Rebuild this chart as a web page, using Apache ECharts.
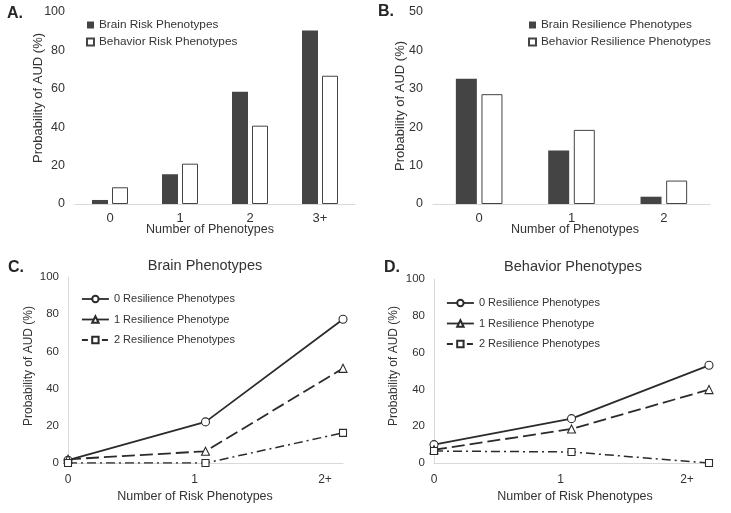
<!DOCTYPE html>
<html>
<head>
<meta charset="utf-8">
<script src="https://cdn.jsdelivr.net/npm/echarts@6/dist/echarts.min.js"></script>
<style>
html,body{margin:0;padding:0;background:#fff;}
#c{width:731px;height:513px;}
</style>
</head>
<body>
<div id="c"></div>
<script>
// ---- Data ----
var riskCats = ['0', '1', '2', '3+'];
var brainRisk = [2.1, 15.5, 58.5, 90.3];
var behaviorRisk = [8.7, 21.0, 40.8, 66.8];

var resCats = ['0', '1', '2'];
var brainRes = [32.6, 13.9, 1.9];
var behaviorRes = [28.6, 19.3, 6.1];

var lineCats = ['0', '1', '2+'];
var brain0 = [1.5, 22.1, 77.3];
var brain1 = [2.0, 6.3, 50.9];
var brain2 = [0.0, 0.0, 16.2];
var behav0 = [10.0, 24.1, 53.1];
var behav1 = [7.2, 18.5, 39.9];
var behav2 = [6.5, 6.0, 0.0];

var resNames = ['0 Resilience Phenotypes', '1 Resilience Phenotype', '2 Resilience Phenotypes'];

// ---- Styles ----
var FONT = 'Liberation Sans, Arial, sans-serif';
var TXT = '#333333';
var AX = '#d9d9d9';
var DARK = '#444444';
var LINE = '#2b2b2b';

function barX(idx, cats, fs) {
  return {
    type: 'category', gridIndex: idx, data: cats,
    axisLine: {show: true, lineStyle: {color: AX, width: 1}},
    axisTick: {show: false},
    axisLabel: {color: TXT, fontFamily: FONT, fontSize: fs, margin: 8}
  };
}
function valY(idx, max, interval, showLine, fs, margin) {
  return {
    type: 'value', gridIndex: idx, min: 0, max: max, interval: interval,
    axisLine: {show: showLine, lineStyle: {color: AX, width: 1}},
    axisTick: {show: false},
    splitLine: {show: false},
    axisLabel: {color: TXT, fontFamily: FONT, fontSize: fs, margin: margin}
  };
}
function lineX(idx) {
  return {
    type: 'category', gridIndex: idx, data: lineCats, boundaryGap: false,
    axisLine: {show: true, lineStyle: {color: AX, width: 1}},
    axisTick: {show: false},
    axisLabel: {
      color: TXT, fontFamily: FONT, fontSize: 12, margin: 11,
      formatter: function (v) {
        if (v === '1') return '{p1|' + v + '}';
        if (v === '2+') return '{p2|' + v + '}';
        return v;
      },
      rich: {
        p1: {padding: [0, 22, 0, 0], color: TXT, fontFamily: FONT, fontSize: 12},
        p2: {padding: [0, idx === 3 ? 44 : 36, 0, 0], color: TXT, fontFamily: FONT, fontSize: 12}
      }
    }
  };
}
function lineSeries(name, idx, data, symbol, size, lineType, width) {
  return {
    name: name, type: 'line', xAxisIndex: idx, yAxisIndex: idx, data: data,
    symbol: symbol, symbolSize: size, showAllSymbol: true,
    itemStyle: {color: '#ffffff', borderColor: LINE, borderWidth: 1.1},
    lineStyle: {color: LINE, width: width, type: lineType},
    z: 3
  };
}

function gtext(text, x, y, size, opts) {
  opts = opts || {};
  return {
    type: 'text', x: x, y: y, rotation: opts.rot || 0,
    style: {
      text: text, fill: opts.color || TXT, font: (opts.bold ? 'bold ' : '') + size + 'px ' + FONT,
      align: opts.align || 'center', verticalAlign: 'middle'
    }
  };
}

var chart = echarts.init(document.getElementById('c'), null, {renderer: 'canvas'});
var lineLegendData = [
  {name: resNames[0], lineStyle: {type: 'solid', width: 1.8}},
  {name: resNames[1], lineStyle: {type: 'solid', width: 1.8}},
  {name: resNames[2], lineStyle: {type: [6, 4], width: 1.8}}
];
var option = {
  backgroundColor: '#ffffff',
  animation: false,
  grid: [
    {left: 75, top: 12, width: 280, height: 192},
    {left: 433, top: 12, width: 277, height: 192},
    {left: 68, top: 277, width: 275, height: 186},
    {left: 434, top: 279, width: 275, height: 184}
  ],
  xAxis: [barX(0, riskCats, 13), barX(1, resCats, 13), lineX(2), lineX(3)],
  yAxis: [
    valY(0, 100, 20, false, 12.5, 10),
    valY(1, 50, 10, false, 12.5, 10),
    valY(2, 100, 20, true, 11.5, 9),
    valY(3, 100, 20, true, 11.5, 9)
  ],
  legend: [
    {
      orient: 'vertical', left: 86, top: 18, itemWidth: 7, itemHeight: 7, itemGap: 3, padding: 0,
      icon: 'rect', data: ['Brain Risk Phenotypes', 'Behavior Risk Phenotypes'],
      textStyle: {color: TXT, fontFamily: FONT, fontSize: 11.8, lineHeight: 14}
    },
    {
      orient: 'vertical', left: 528, top: 18, itemWidth: 7, itemHeight: 7, itemGap: 3, padding: 0,
      icon: 'rect', data: ['Brain Resilience Phenotypes', 'Behavior Resilience Phenotypes'],
      textStyle: {color: TXT, fontFamily: FONT, fontSize: 11.8, lineHeight: 14}
    },
    {
      orient: 'vertical', left: 81, top: 292, itemWidth: 27, itemHeight: 8, itemGap: 6.5, padding: 0,
      data: lineLegendData,
      textStyle: {color: TXT, fontFamily: FONT, fontSize: 11, lineHeight: 14}
    },
    {
      orient: 'vertical', left: 446, top: 296, itemWidth: 27, itemHeight: 8, itemGap: 6.5, padding: 0,
      data: lineLegendData,
      textStyle: {color: TXT, fontFamily: FONT, fontSize: 11, lineHeight: 14}
    }
  ],
  series: [
    {name: 'Brain Risk Phenotypes', type: 'bar', xAxisIndex: 0, yAxisIndex: 0, data: brainRisk,
     barWidth: 16, barGap: '25%', itemStyle: {color: DARK}},
    {name: 'Behavior Risk Phenotypes', type: 'bar', xAxisIndex: 0, yAxisIndex: 0, data: behaviorRisk,
     barWidth: 16, barGap: '25%', itemStyle: {color: '#ffffff', borderColor: DARK, borderWidth: 1}},
    {name: 'Brain Resilience Phenotypes', type: 'bar', xAxisIndex: 1, yAxisIndex: 1, data: brainRes,
     barWidth: 21, barGap: '22%', itemStyle: {color: DARK}},
    {name: 'Behavior Resilience Phenotypes', type: 'bar', xAxisIndex: 1, yAxisIndex: 1, data: behaviorRes,
     barWidth: 21, barGap: '22%', itemStyle: {color: '#ffffff', borderColor: DARK, borderWidth: 1}},

    lineSeries(resNames[0], 2, brain0, 'circle', 8, 'solid', 1.8),
    lineSeries(resNames[1], 2, brain1, 'triangle', 8, [13, 5], 1.8),
    lineSeries(resNames[2], 2, brain2, 'rect', 7, [9, 4, 2, 4], 1.5),
    lineSeries(resNames[0], 3, behav0, 'circle', 8, 'solid', 1.8),
    lineSeries(resNames[1], 3, behav1, 'triangle', 8, [13, 5], 1.8),
    lineSeries(resNames[2], 3, behav2, 'rect', 7, [9, 4, 2, 4], 1.5)
  ],
  graphic: [
    gtext('A.', 7, 14, 16, {bold: true, align: 'left', color: '#262626'}),
    gtext('B.', 378, 12, 16, {bold: true, align: 'left', color: '#262626'}),
    gtext('C.', 8, 268, 16, {bold: true, align: 'left', color: '#262626'}),
    gtext('D.', 384, 268, 16, {bold: true, align: 'left', color: '#262626'}),
    gtext('Brain Phenotypes', 205, 266, 14.5),
    gtext('Behavior Phenotypes', 573, 267, 14.5),
    gtext('Number of Phenotypes', 210, 230, 12.5),
    gtext('Number of Phenotypes', 575, 230, 12.5),
    gtext('Number of Risk Phenotypes', 195, 497, 12.5),
    gtext('Number of Risk Phenotypes', 575, 497, 12.5),
    gtext('Probability of AUD (%)', 38, 98, 13, {rot: Math.PI / 2}),
    gtext('Probability of AUD (%)', 400, 106, 13, {rot: Math.PI / 2}),
    gtext('Probability of AUD (%)', 29, 366, 12, {rot: Math.PI / 2}),
    gtext('Probability of AUD (%)', 394, 366, 12, {rot: Math.PI / 2})
  ]
};
chart.setOption(option);
</script>
</body>
</html>
